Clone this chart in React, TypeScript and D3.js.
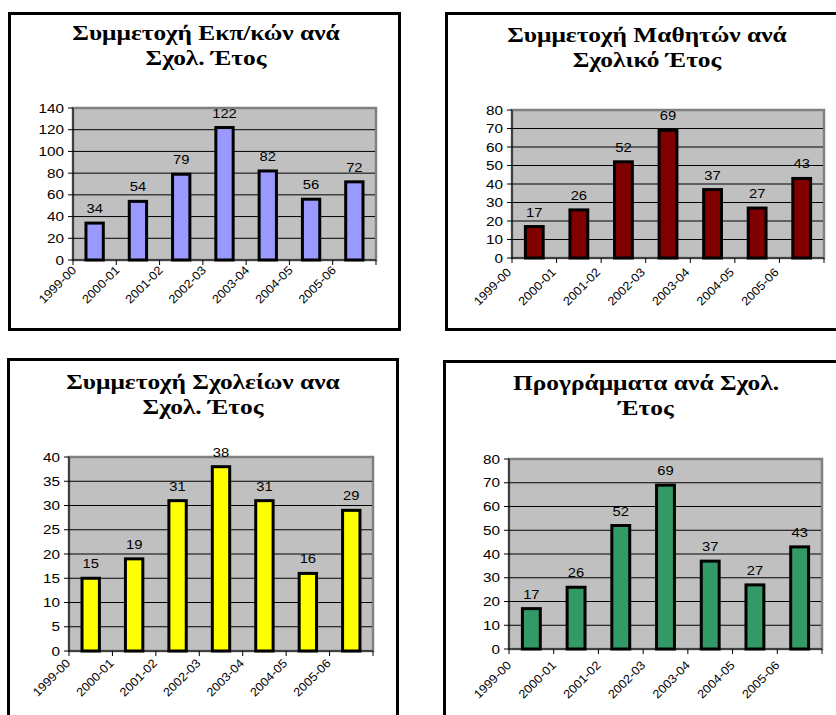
import * as d3 from 'd3';

const years = ['1999-00', '2000-01', '2001-02', '2002-03', '2003-04', '2004-05', '2005-06'];

const teachers = [34, 54, 79, 122, 82, 56, 72];
const students = [17, 26, 52, 69, 37, 27, 43];
const schools = [15, 19, 31, 38, 31, 16, 29];
const programmes = [17, 26, 52, 69, 37, 27, 43];

const teacherTicks = [0, 20, 40, 60, 80, 100, 120, 140];
const studentTicks = [0, 10, 20, 30, 40, 50, 60, 70, 80];
const schoolTicks = [0, 5, 10, 15, 20, 25, 30, 35, 40];
const programmeTicks = [0, 10, 20, 30, 40, 50, 60, 70, 80];

interface PanelProps {
  title: string[];
  values: number[];
  ticks: number[];
  color: string;
  frame: { x: number; y: number; w: number; h: number };
  plot: { left: number; right: number; top: number; bottom: number };
  titleX: number;
  titleY: number;
  labelOffset: [number, number];
}

const sans = "'Liberation Sans', Arial, sans-serif";

const Panel = ({ title, values, ticks, color, frame, plot, titleX, titleY, labelOffset }: PanelProps) => {
  const x = d3.scaleBand<string>()
    .domain(years)
    .range([plot.left, plot.right])
    .paddingInner(0.6)
    .paddingOuter(0.3);
  const step = (plot.right - plot.left) / years.length;
  const y = d3.scaleLinear()
    .domain([0, d3.max(ticks) as number])
    .range([plot.bottom, plot.top]);

  return (
    <g>
      {/* panel frame */}
      <rect x={frame.x} y={frame.y} width={frame.w} height={frame.h}
        fill="#fff" stroke="#000" strokeWidth={3} />

      {/* title, stretched like the original picture */}
      <text transform={`translate(${titleX},${titleY}) scale(1.27,1)`} textAnchor="middle"
        fontFamily="'Liberation Serif', 'Times New Roman', serif"
        fontWeight="bold" fontSize={20}>
        {title.map((line, i) => (
          <tspan key={i} x={0} dy={i === 0 ? 0 : 25}>{line}</tspan>
        ))}
      </text>

      {/* plot area */}
      <rect x={plot.left} y={plot.top} width={plot.right - plot.left}
        height={plot.bottom - plot.top} fill="#c0c0c0" stroke="#808080" strokeWidth={2.5} />

      {/* grid lines */}
      {ticks.slice(1, -1).map(t => (
        <line key={t} x1={plot.left} x2={plot.right - 1} y1={y(t)} y2={y(t)}
          stroke="#000" strokeWidth={1} />
      ))}

      {/* y axis */}
      <line x1={plot.left} x2={plot.left} y1={plot.top} y2={plot.bottom} stroke="#000" strokeWidth={1} />
      {ticks.map(t => (
        <g key={t}>
          <line x1={plot.left - 5} x2={plot.left} y1={y(t)} y2={y(t)} stroke="#000" />
          <text x={plot.left - 9} y={y(t)} dy="0.36em" textAnchor="end"
            fontFamily={sans} fontSize={12.5}
            textLength={String(t).length * 8.5} lengthAdjust="spacingAndGlyphs">
            {t}
          </text>
        </g>
      ))}

      {/* x axis */}
      <line x1={plot.left} x2={plot.right} y1={plot.bottom} y2={plot.bottom} stroke="#000" strokeWidth={1} />
      {d3.range(years.length + 1).map(i => (
        <line key={i} x1={plot.left + i * step} x2={plot.left + i * step}
          y1={plot.bottom} y2={plot.bottom + 5} stroke="#000" />
      ))}
      {years.map((yr, i) => (
        <text key={yr}
          transform={`translate(${plot.left + i * step + labelOffset[0]},${plot.bottom + labelOffset[1]}) rotate(-45)`}
          textAnchor="end"
          fontFamily={sans} fontSize={12}
          textLength={47} lengthAdjust="spacingAndGlyphs">
          {yr}
        </text>
      ))}

      {/* bars */}
      {values.map((v, i) => (
        <rect key={i} x={x(years[i])} y={y(v)} width={x.bandwidth()}
          height={plot.bottom - y(v)} fill={color} stroke="#000" strokeWidth={3} />
      ))}

      {/* value labels */}
      {values.map((v, i) => (
        <text key={i} x={(x(years[i]) as number) + x.bandwidth() / 2} y={y(v) - 10}
          textAnchor="middle" fontFamily={sans} fontSize={12.5}
          textLength={String(v).length * 8.2} lengthAdjust="spacingAndGlyphs">
          {v}
        </text>
      ))}
    </g>
  );
};

const App = () => (
  <svg width={836} height={715} style={{ position: 'absolute', left: 0, top: 0 }}>
    <rect width={836} height={715} fill="#fff" />
    <Panel title={['Συμμετοχή Εκπ/κών ανά', 'Σχολ. Έτος']} values={teachers} ticks={teacherTicks}
      color="#9999ff" frame={{ x: 9.5, y: 13.5, w: 390, h: 316 }}
      plot={{ left: 73, right: 376, top: 108, bottom: 260 }} titleX={206} titleY={40}
      labelOffset={[4, 11]} />
    <Panel title={['Συμμετοχή Μαθητών ανά', 'Σχολικό Έτος']} values={students} ticks={studentTicks}
      color="#800000" frame={{ x: 446.5, y: 13.5, w: 400, h: 316 }}
      plot={{ left: 512, right: 824, top: 110, bottom: 258 }} titleX={647} titleY={42}
      labelOffset={[0, 15]} />
    <Panel title={['Συμμετοχή Σχολείων ανα', 'Σχολ. Έτος']} values={schools} ticks={schoolTicks}
      color="#ffff00" frame={{ x: 8.5, y: 359.5, w: 389, h: 370 }}
      plot={{ left: 69, right: 373, top: 457, bottom: 651 }} titleX={203} titleY={389}
      labelOffset={[2, 13]} />
    <Panel title={['Προγράμματα ανά Σχολ.', 'Έτος']} values={programmes} ticks={programmeTicks}
      color="#339966" frame={{ x: 444.5, y: 361.5, w: 400, h: 370 }}
      plot={{ left: 509, right: 822, top: 459, bottom: 649 }} titleX={646} titleY={390}
      labelOffset={[3, 17]} />
  </svg>
);

export default App;
